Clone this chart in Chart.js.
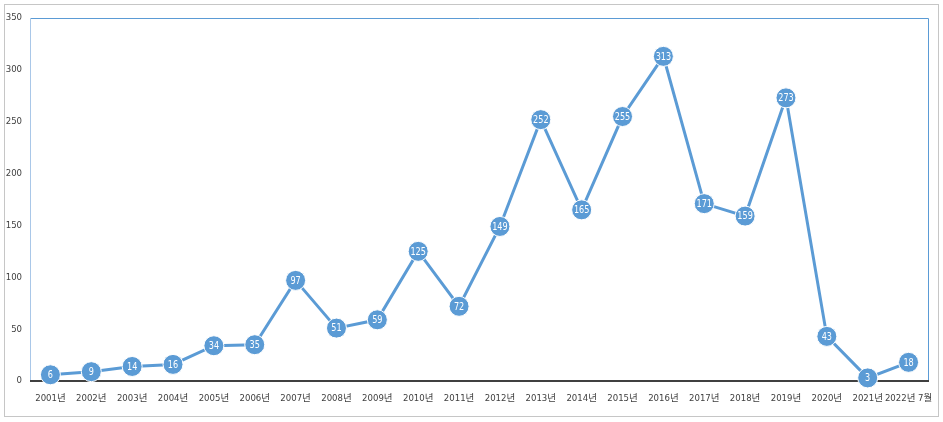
<!DOCTYPE html>
<html>
<head>
<meta charset="utf-8">
<script src="https://cdn.jsdelivr.net/npm/chart.js@4"></script>
<style>
html,body{margin:0;padding:0;background:#fff;}
#wrap{width:943px;height:422px;position:relative;}
</style>
</head>
<body>
<div id="wrap"><canvas id="c" width="943" height="422"></canvas></div>
<script>
const categories = ["2001년","2002년","2003년","2004년","2005년","2006년","2007년","2008년","2009년","2010년","2011년","2012년","2013년","2014년","2015년","2016년","2017년","2018년","2019년","2020년","2021년","2022년 7월"];
const counts = [6,9,14,16,34,35,97,51,59,125,72,149,252,165,255,313,171,159,273,43,3,18];
const yTicks = [0,50,100,150,200,250,300,350];

const FONT = "'DejaVu Sans Condensed','Liberation Sans Narrow','Noto Sans CJK KR',sans-serif";
const BLUE = '#5B9BD5';

const framePlugin = {
  id: 'frame',
  beforeDraw(chart) {
    const ctx = chart.ctx;
    ctx.save();
    ctx.fillStyle = '#fff';
    ctx.fillRect(0, 0, chart.width, chart.height);
    ctx.strokeStyle = '#C6C6C6';
    ctx.lineWidth = 1;
    ctx.strokeRect(4.5, 4.5, 934, 412);
    ctx.restore();
  },
  beforeDatasetsDraw(chart) {
    const ctx = chart.ctx;
    const a = chart.chartArea;
    ctx.save();
    ctx.lineWidth = 1;
    ctx.strokeStyle = BLUE;
    ctx.beginPath();
    ctx.moveTo(Math.round(a.left) + 0.5, Math.round(a.top) + 0.5);
    ctx.lineTo(Math.round(a.right) - 0.5, Math.round(a.top) + 0.5);
    ctx.lineTo(Math.round(a.right) - 0.5, Math.round(a.bottom));
    ctx.stroke();
    ctx.strokeStyle = '#A9C7E8';
    ctx.beginPath();
    ctx.moveTo(Math.round(a.left) + 0.5, Math.round(a.bottom));
    ctx.lineTo(Math.round(a.left) + 0.5, Math.round(a.top) + 1);
    ctx.stroke();
    ctx.strokeStyle = '#404040';
    ctx.lineWidth = 2;
    const y0 = chart.scales.y.getPixelForValue(0);
    ctx.beginPath();
    ctx.moveTo(a.left, y0);
    ctx.lineTo(a.right, y0);
    ctx.stroke();
    ctx.restore();
  },
  afterDatasetsDraw(chart) {
    const ctx = chart.ctx;
    const meta = chart.getDatasetMeta(0);
    ctx.save();
    ctx.fillStyle = '#fff';
    ctx.font = "11px " + FONT;
    ctx.textAlign = 'center';
    ctx.textBaseline = 'middle';
    meta.data.forEach((pt, i) => {
      ctx.save();
      ctx.translate(pt.x, pt.y + 0.5);
      ctx.scale(0.82, 1);
      ctx.fillText(String(counts[i]), 0, 0);
      ctx.restore();
    });
    ctx.restore();
  }
};

new Chart(document.getElementById('c'), {
  type: 'line',
  data: {
    labels: categories,
    datasets: [{
      data: counts,
      borderColor: BLUE,
      borderWidth: 3,
      backgroundColor: BLUE,
      pointBackgroundColor: BLUE,
      pointBorderColor: '#ffffff',
      pointBorderWidth: 1,
      pointRadius: 10,
      pointHoverRadius: 10,
      tension: 0,
      clip: false
    }]
  },
  options: {
    responsive: false,
    animation: false,
    devicePixelRatio: 1,
    layout: { padding: { left: 0, right: 14, top: 18, bottom: 8 } },
    plugins: { legend: { display: false }, tooltip: { enabled: false } },
    scales: {
      x: {
        offset: true,
        grid: { display: false, drawTicks: false },
        border: { display: false },
        ticks: { color: '#404040', font: { family: FONT, size: 9.5 }, padding: 12, maxRotation: 0, autoSkip: false },
        afterFit(s) { s.height = 33; s.paddingLeft = 0; s.paddingRight = 0; }
      },
      y: {
        min: 0, max: 350,
        grid: { display: false, drawTicks: false },
        border: { display: false },
        afterBuildTicks(s) { s.ticks = yTicks.map(v => ({ value: v })); },
        ticks: { color: '#404040', font: { family: FONT, size: 9.5 }, padding: 8 },
        afterFit(s) { s.width = 30; s.paddingTop = 0; s.paddingBottom = 0; }
      }
    }
  },
  plugins: [framePlugin]
});
</script>
</body>
</html>
